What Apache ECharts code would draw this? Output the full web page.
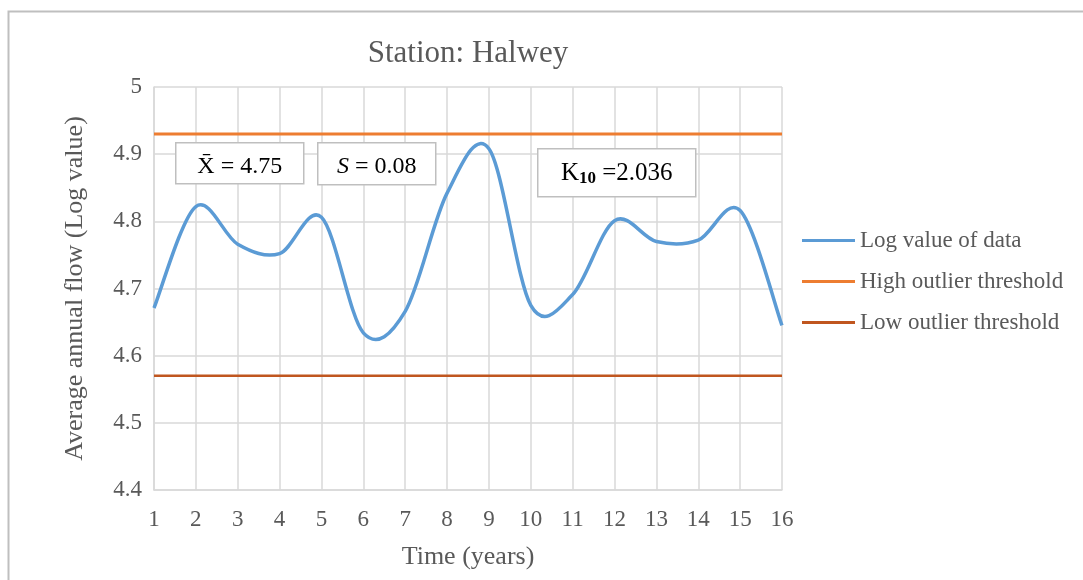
<!DOCTYPE html>
<html style="height: 100%">
<head>
    <meta charset="utf-8">
    <title>Station: Halwey</title>
    <script src="https://cdn.jsdelivr.net/npm/echarts@6/dist/echarts.min.js"></script>
</head>
<body style="height: 100%; margin: 0; background: #fff">
<div id="container" style="width: 1083px; height: 580px"></div>
<script type="text/javascript">
// years 1..16
var years = [1, 2, 3, 4, 5, 6, 7, 8, 9, 10, 11, 12, 13, 14, 15, 16];
// log value of annual flow
var logValues = [4.671, 4.822, 4.766, 4.752, 4.806, 4.634, 4.666, 4.842, 4.908, 4.675, 4.691, 4.801, 4.770, 4.772, 4.816, 4.645];
var highThreshold = 4.93;
var lowThreshold = 4.57;

var serif = '"Liberation Serif", "DejaVu Serif", serif';
var grey = '#595959';

var dom = document.getElementById('container');
var myChart = echarts.init(dom);

function pairs(ys) {
  return years.map(function (x, i) { return [x, ys[i]]; });
}
function flat(v) {
  return [[years[0], v], [years[years.length - 1], v]];
}

// smooth line like the spreadsheet one (catmull-rom through the data points)
function renderSmooth(params, api) {
  if (params.dataIndex !== 0) return null;
  var pts = years.map(function (x, i) { return api.coord([x, logValues[i]]); });
  var n = pts.length;
  var d = 'M' + pts[0][0] + ',' + pts[0][1];
  for (var i = 0; i < n - 1; i++) {
    var p0 = pts[Math.max(i - 1, 0)];
    var p1 = pts[i];
    var p2 = pts[i + 1];
    var p3 = pts[Math.min(i + 2, n - 1)];
    var c1x = p1[0] + (p2[0] - p0[0]) / 6;
    var c1y = p1[1] + (p2[1] - p0[1]) / 6;
    var c2x = p2[0] - (p3[0] - p1[0]) / 6;
    var c2y = p2[1] - (p3[1] - p1[1]) / 6;
    d += ' C' + c1x + ',' + c1y + ' ' + c2x + ',' + c2y + ' ' + p2[0] + ',' + p2[1];
  }
  return {
    type: 'path',
    shape: { pathData: d },
    style: { fill: 'none', stroke: '#5b9bd5', lineWidth: 3.5, lineJoin: 'round', lineCap: 'butt' }
  };
}

function box(x, y, w, h, dy, rich, text) {
  return {
    type: 'group',
    left: x,
    top: y,
    z: 100,
    children: [
      {
        type: 'rect',
        z: 100,
        shape: { x: 0, y: 0, width: w, height: h },
        style: { fill: '#fff', stroke: '#bfbfbf', lineWidth: 1.5 }
      },
      {
        type: 'text',
        z: 101,
        x: w / 2,
        y: h / 2 + dy,
        style: {
          text: text,
          rich: rich,
          align: 'center',
          verticalAlign: 'middle',
          font: '24px ' + serif,
          fill: '#000'
        }
      }
    ]
  };
}

var option = {
  animation: false,
  backgroundColor: '#fff',
  title: {
    text: 'Station: Halwey',
    left: 463,
    textAlign: 'center',
    top: 33,
    textStyle: { fontFamily: serif, fontSize: 31, fontWeight: 'normal', color: grey }
  },
  legend: {
    orient: 'vertical',
    left: 797,
    top: 224,
    itemWidth: 53,
    itemHeight: 3,
    itemGap: 18,
    icon: 'rect',
    textStyle: { fontFamily: serif, fontSize: 23, color: grey },
    data: ['Log value of data', 'High outlier threshold', 'Low outlier threshold']
  },
  grid: { left: 154, right: 301, top: 87, bottom: 90 },
  xAxis: {
    type: 'value',
    min: 1,
    max: 16,
    interval: 1,
    name: 'Time (years)',
    nameLocation: 'middle',
    nameGap: 54,
    nameTextStyle: { fontFamily: serif, fontSize: 26, color: grey },
    axisLine: { show: true, lineStyle: { color: '#d9d9d9', width: 1.5 } },
    axisTick: { show: false },
    axisLabel: { fontFamily: serif, fontSize: 23, color: grey, margin: 18 },
    splitLine: { show: true, lineStyle: { color: '#d9d9d9', width: 1.5 } }
  },
  yAxis: {
    type: 'value',
    min: 4.4,
    max: 5,
    interval: 0.1,
    name: 'Average annual flow (Log value)',
    nameLocation: 'middle',
    nameGap: 66,
    nameTextStyle: { fontFamily: serif, fontSize: 26, color: grey },
    axisLine: { show: true, lineStyle: { color: '#d9d9d9', width: 1.5 } },
    axisTick: { show: false },
    axisLabel: { fontFamily: serif, fontSize: 23, color: grey, margin: 12 },
    splitLine: { show: true, lineStyle: { color: '#d9d9d9', width: 1.5 } }
  },
  series: [
    {
      name: 'Log value of data',
      type: 'custom',
      renderItem: renderSmooth,
      data: pairs(logValues),
      encode: { x: 0, y: 1 },
      itemStyle: { color: '#5b9bd5' },
      z: 5
    },
    {
      name: 'High outlier threshold',
      type: 'line',
      symbol: 'none',
      data: flat(highThreshold),
      lineStyle: { color: '#ed7d31', width: 3 },
      itemStyle: { color: '#ed7d31' }
    },
    {
      name: 'Low outlier threshold',
      type: 'line',
      symbol: 'none',
      data: flat(lowThreshold),
      lineStyle: { color: '#c0561f', width: 2.5 },
      itemStyle: { color: '#c0561f' }
    }
  ],
  graphic: [
    {
      type: 'rect',
      left: 6,
      top: 9,
      shape: { x: 0, y: 0, width: 1200, height: 700 },
      style: { fill: 'none', stroke: '#bfbfbf', lineWidth: 2 },
      silent: true
    },
    box(175, 142, 128, 41, 3, null, 'X\u0304 = 4.75'),
    box(317, 142, 118, 42, 3, {
      i: { fontStyle: 'italic', fontFamily: serif, fontSize: 24, fill: '#000' },
      n: { fontFamily: serif, fontSize: 24, fill: '#000' }
    }, '{i|S}{n| = 0.08}'),
    box(537, 148, 158, 48, 1, {
      n: { fontFamily: serif, fontSize: 25, fill: '#000' },
      sub: { fontFamily: serif, fontSize: 17, fontWeight: 'bold', fill: '#000', padding: [10, 0, 0, 0] }
    }, '{n|K}{sub|10}{n| =2.036}')
  ]
};

myChart.setOption(option);
window.onresize = function () {
  myChart.resize();
};
</script>
</body>
</html>
